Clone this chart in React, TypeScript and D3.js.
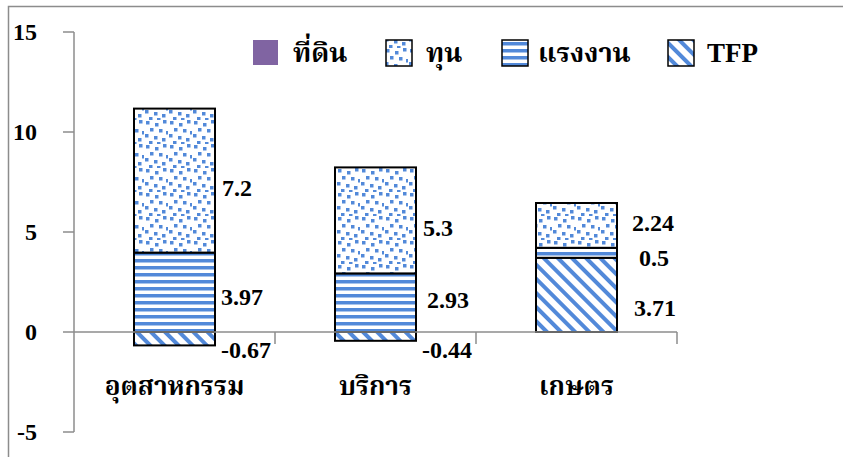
import React from "react";
import * as d3 from "d3";

const categories = ["อุตสาหกรรม", "บริการ", "เกษตร"];
const seriesKeys = ["tfp", "labor", "capital", "land"];
const legendNames = ["ที่ดิน", "ทุน", "แรงงาน", "TFP"];
const legendKeys = ["land", "capital", "labor", "tfp"];
const land = [0, 0, 0];
const capital = [7.2, 5.3, 2.24];
const labor = [3.97, 2.93, 0.5];
const tfp = [-0.67, -0.44, 3.71];
const yTicks = [-5, 0, 5, 10, 15];

// label placement nudges (dx from bar right, dy from segment centre)
const labelNudge: Record<string, [number, number][]> = {
  capital: [[7, 7], [7, 8], [15, -2]],
  labor: [[6, 5], [11, -3], [22, 5]],
  tfp: [[6, 11], [6, 14], [17, 13]],
};

const W = 843;
const H = 457;
const BLUE = "#5289d9";
const SERIF = "'Liberation Serif', 'Times New Roman', serif";
const THAI = "'Noto Serif Thai', 'Noto Sans Thai', 'Tlwg Typo', Loma, Garuda, 'Liberation Serif', serif";

const table = categories.map((c, i) => ({
  cat: c,
  land: land[i],
  capital: capital[i],
  labor: labor[i],
  tfp: tfp[i],
}));

const fills: Record<string, string> = {
  land: "#8064a2",
  capital: "url(#pDots)",
  labor: "url(#pHoriz)",
  tfp: "url(#pDiag)",
};

const dotPositions = [
  [2, 1], [11, 3], [19, 0],
  [6, 8], [15, 9], [22, 11],
  [1, 14], [10, 16], [18, 18],
  [5, 21], [13, 22],
];

export default function App() {
  const x = d3.scaleBand<string>().domain(categories).range([74, 677]).paddingInner(0.597).paddingOuter(0.2985);
  const y = d3.scaleLinear().domain([-5, 15]).range([432, 32]);
  const stack = d3.stack<any>().keys(seriesKeys).offset(d3.stackOffsetDiverging);
  const stacked = stack(table as any);
  const fmt = (v: number) => String(v);

  return (
    <svg width={W} height={H} style={{ position: "fixed", left: 0, top: 0, background: "#fff" }}>
      <defs>
        <pattern id="pDots" width={24} height={24} patternUnits="userSpaceOnUse">
          <rect width={24} height={24} fill="#fff" />
          {dotPositions.map(([px, py], i) => (
            <rect key={i} x={px} y={py} width={3.5} height={3.5} fill={BLUE} />
          ))}
        </pattern>
        <pattern id="pHoriz" width={8} height={7} patternUnits="userSpaceOnUse">
          <rect width={8} height={7} fill="#fff" />
          <rect y={0} width={8} height={3.5} fill={BLUE} />
        </pattern>
        <pattern id="pDiag" width={10} height={10} patternUnits="userSpaceOnUse" patternTransform="rotate(-45)">
          <rect width={10} height={10} fill="#fff" />
          <rect x={0} width={4} height={10} fill={BLUE} />
        </pattern>
      </defs>

      {/* chart frame (partially visible) */}
      <rect x={8.5} y={6.5} width={1000} height={1000} fill="none" stroke="#8c8c8c" strokeWidth={1.5} />

      {/* y axis */}
      <line x1={74} x2={74} y1={y(15)} y2={y(-5)} stroke="#8c8c8c" strokeWidth={1.5} />
      {yTicks.map((t) => (
        <g key={t}>
          <line x1={63} x2={74} y1={y(t)} y2={y(t)} stroke="#8c8c8c" strokeWidth={1.5} />
          <text x={37} y={y(t) + 8} textAnchor="end" fontFamily={SERIF} fontWeight="bold" fontSize={24} fill="#000">
            {t}
          </text>
        </g>
      ))}

      {/* bars */}
      {stacked.map((s) =>
        s.map((d, i) => {
          const v = (table[i] as any)[s.key];
          if (v === 0) return null;
          const x0 = x(categories[i])!;
          const y0 = y(Math.max(d[0], d[1]));
          const y1 = y(Math.min(d[0], d[1]));
          return (
            <rect key={s.key + i} x={x0} y={y0} width={x.bandwidth()} height={y1 - y0} fill={fills[s.key]} stroke="#000" strokeWidth={2} />
          );
        })
      )}

      {/* category axis */}
      <line x1={74} x2={677} y1={y(0)} y2={y(0)} stroke="#8c8c8c" strokeWidth={1.5} />
      {categories.map((c, i) => {
        const tickX = 74 + x.step() * (i + 1);
        return <line key={c} x1={tickX} x2={tickX} y1={y(0)} y2={y(0) + 12} stroke="#8c8c8c" strokeWidth={1.5} />;
      })}

      {/* value labels */}
      {stacked.map((s) =>
        s.map((d, i) => {
          const v = (table[i] as any)[s.key];
          if (v === 0 || !labelNudge[s.key]) return null;
          const [dx, dy] = labelNudge[s.key][i];
          const xr = x(categories[i])! + x.bandwidth();
          const yc = y((d[0] + d[1]) / 2);
          return (
            <text key={"l" + s.key + i} x={xr + dx} y={yc + dy + 8} fontFamily={SERIF} fontWeight="bold" fontSize={24} fill="#000">
              {fmt(v)}
            </text>
          );
        })
      )}

      {/* category labels */}
      {categories.map((c) => (
        <text key={c} x={x(c)! + x.bandwidth() / 2} y={395} textAnchor="middle" fontFamily={THAI} fontWeight="bold" fontSize={26} fill="#000">
          {c}
        </text>
      ))}

      {/* legend */}
      {legendKeys.map((k, i) => {
        const sx = [253, 386, 502, 668][i];
        const tx = [293, 426, 538, 707][i];
        return (
          <g key={k}>
            <rect x={sx} y={40} width={k === "land" ? 25 : 26} height={k === "land" ? 25 : 26} fill={fills[k]} stroke={k === "land" ? "none" : "#000"} strokeWidth={1.5} />
            <text x={tx} y={62} fontFamily={k === "tfp" ? SERIF : THAI} fontWeight="bold" fontSize={27} fill="#000">
              {legendNames[i]}
            </text>
          </g>
        );
      })}
    </svg>
  );
}
